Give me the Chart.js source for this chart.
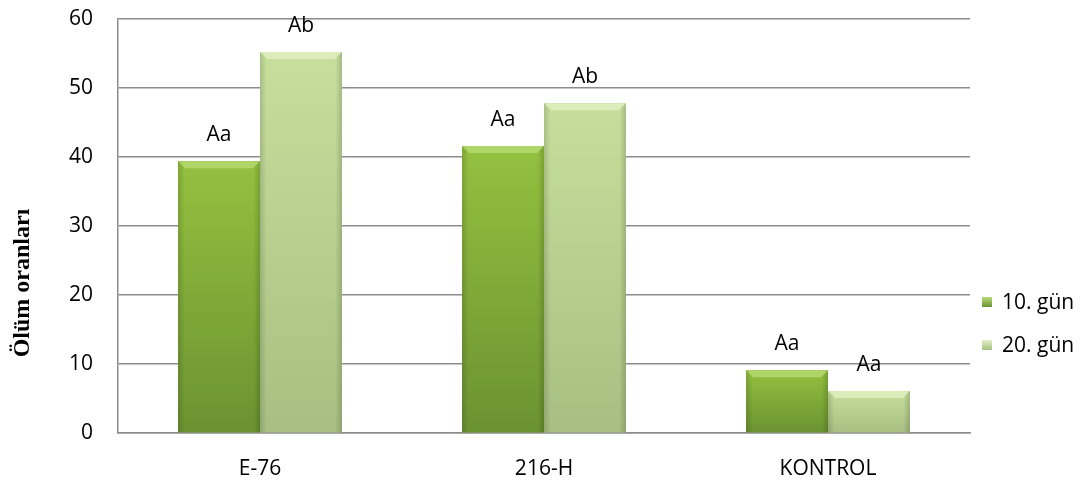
<!DOCTYPE html>
<html>
<head>
<meta charset="utf-8">
<script src="https://cdn.jsdelivr.net/npm/chart.js@4/dist/chart.umd.min.js"></script>
<style>
  html, body { margin: 0; padding: 0; background: #ffffff; }
  #wrap { width: 1089px; height: 483px; }
</style>
</head>
<body>
<div id="wrap"><canvas id="c" width="1089" height="483"></canvas></div>
<script>
// Mortality rates per strain, read on day 10 and day 20
const categories = ['E-76', '216-H', 'KONTROL'];
const seriesNames = ['10. gün', '20. gün'];
const day10 = [39.4, 41.6, 9.1];
const day20 = [55.2, 47.8, 6.1];
// Significance letters shown above each bar
const letters10 = ['Aa', 'Aa', 'Aa'];
const letters20 = ['Ab', 'Ab', 'Aa'];
const yTicks = [0, 10, 20, 30, 40, 50, 60];
const yTitle = 'Ölüm oranları';

const FONT = '"Open Sans", Lato, sans-serif';
const palette = [
  { base: '#7fac38', top: '#93c13f', bottom: '#6a9331', light: '#b9dc78' },
  { base: '#b8d38e', top: '#c6df9c', bottom: '#a7bf82', light: '#e3f1c6' }
];

// Bevelled, shaded look painted over each bar from its element geometry
const bevelPlugin = {
  id: 'bevel',
  afterDatasetsDraw(chart) {
    const ctx = chart.ctx;
    chart.data.datasets.forEach((ds, di) => {
      const meta = chart.getDatasetMeta(di);
      const pal = palette[di];
      meta.data.forEach(bar => {
        const l = bar.x - bar.width / 2, r = bar.x + bar.width / 2;
        const t = bar.y, b = bar.base;
        const h = b - t;
        const bv = Math.min(7, h / 3);
        ctx.save();
        // vertical body gradient
        const vg = ctx.createLinearGradient(0, t, 0, b);
        vg.addColorStop(0, pal.top);
        vg.addColorStop(1, pal.bottom);
        ctx.fillStyle = vg;
        ctx.fillRect(l, t, r - l, h);
        // soft shading toward the sides
        const g = ctx.createLinearGradient(l, 0, r, 0);
        g.addColorStop(0, 'rgba(0,0,0,0.14)');
        g.addColorStop(0.08, 'rgba(0,0,0,0.0)');
        g.addColorStop(0.92, 'rgba(0,0,0,0.0)');
        g.addColorStop(1, 'rgba(0,0,0,0.16)');
        ctx.fillStyle = g;
        ctx.fillRect(l, t, r - l, h);
        // top bevel
        ctx.beginPath();
        ctx.moveTo(l, t); ctx.lineTo(r, t);
        ctx.lineTo(r - bv, t + bv); ctx.lineTo(l + bv, t + bv);
        ctx.closePath();
        ctx.fillStyle = pal.light;
        ctx.globalAlpha = 0.75;
        ctx.fill();
        ctx.restore();
      });
    });
  }
};

// Letters above bars, plus the y-axis title and the side legend
const annotatePlugin = {
  id: 'annotate',
  afterDraw(chart) {
    const ctx = chart.ctx;
    const lettersBySeries = [letters10, letters20];
    ctx.save();
    ctx.fillStyle = '#000';
    ctx.font = '21px ' + FONT;
    ctx.textAlign = 'center';
    ctx.textBaseline = 'middle';
    chart.data.datasets.forEach((ds, di) => {
      chart.getDatasetMeta(di).data.forEach((bar, i) => {
        ctx.fillText(lettersBySeries[di][i], bar.x, bar.y - 26);
      });
    });

    // y-axis title
    ctx.save();
    ctx.translate(23, 283);
    ctx.rotate(-Math.PI / 2);
    ctx.font = 'bold 24px "Liberation Serif", "DejaVu Serif", serif';
    ctx.textAlign = 'center';
    ctx.textBaseline = 'middle';
    ctx.fillText(yTitle, 0, 0);
    ctx.restore();

    // legend
    const lx = 982, ly = [302, 345];
    chart.data.datasets.forEach((ds, di) => {
      const pal = palette[di];
      const y = ly[di];
      const g = ctx.createLinearGradient(0, y - 5, 0, y + 5);
      g.addColorStop(0, pal.light);
      g.addColorStop(1, pal.bottom);
      ctx.fillStyle = g;
      ctx.fillRect(lx, y - 5, 10, 10);
      ctx.fillStyle = '#000';
      ctx.font = '21px ' + FONT;
      ctx.textAlign = 'left';
      ctx.fillText(ds.label, lx + 20, y + 1);
    });
    ctx.restore();
  }
};

new Chart(document.getElementById('c'), {
  type: 'bar',
  data: {
    labels: categories,
    datasets: [
      { label: seriesNames[0], data: day10, backgroundColor: palette[0].base, borderWidth: 0 },
      { label: seriesNames[1], data: day20, backgroundColor: palette[1].base, borderWidth: 0 }
    ]
  },
  options: {
    responsive: false,
    animation: false,
    layout: { autoPadding: false, padding: { left: 0, right: 119, top: 19, bottom: 0 } },
    datasets: { bar: { categoryPercentage: 0.577, barPercentage: 1.0 } },
    plugins: {
      legend: { display: false },
      tooltip: { enabled: false }
    },
    scales: {
      x: {
        grid: { display: false, drawTicks: false },
        border: { display: true, color: '#8c8c8c', width: 1.5 },
        ticks: { color: '#000', font: { family: FONT, size: 21 }, padding: 23 },
        afterFit(scale) { scale.height = 50; }
      },
      y: {
        min: 0, max: 60,
        afterBuildTicks(scale) { scale.ticks = yTicks.map(v => ({ value: v })); },
        grid: { color: '#8c8c8c', lineWidth: 1.5, drawTicks: false },
        border: { display: true, color: '#8c8c8c', width: 1.5 },
        ticks: { color: '#000', font: { family: FONT, size: 21 }, padding: 25 },
        afterFit(scale) { scale.width = 118; scale.paddingTop = 0; scale.paddingBottom = 0; }
      }
    }
  },
  plugins: [bevelPlugin, annotatePlugin]
});
</script>
</body>
</html>
